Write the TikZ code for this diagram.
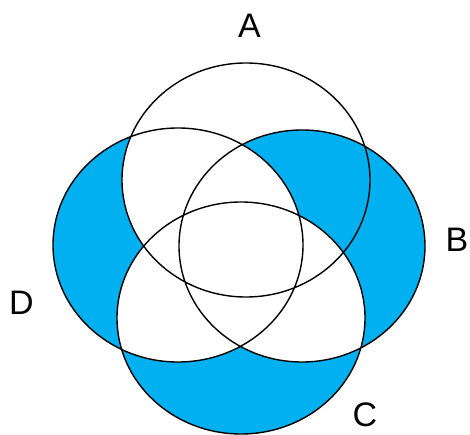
\documentclass[tikz,border=0pt]{standalone}
\usepackage{fontspec}
\setmainfont{Liberation Sans}
\usetikzlibrary{positioning}
\definecolor{vnBlue}{HTML}{00B0F0}
\tikzset{
  vnline/.style={draw=black, line width=1.4pt},
  vnfill/.style={fill=vnBlue},
  vnlabel/.style={font=\fontsize{34}{40}\selectfont, inner sep=0pt}
}
\newcommand{\vnA}{(246,254) ellipse [x radius=124pt, y radius=117pt]}
\newcommand{\vnB}{(302,188) ellipse [x radius=123pt, y radius=116pt]}
\newcommand{\vnC}{(241,116) ellipse [x radius=124pt, y radius=116pt]}
\newcommand{\vnD}{(178,189) ellipse [x radius=125pt, y radius=117pt]}
\begin{document}
\begin{tikzpicture}[x=1pt, y=1pt]
  \useasboundingbox (0,0) rectangle (470,434);
  \fill[white] (0,0) rectangle (470,434);
  % shaded parts: B, C, D alone and A with B only
  \fill[vnfill] \vnB; \fill[vnfill] \vnC; \fill[vnfill] \vnD;
  \fill[white] \vnA;
  \begin{scope} \clip \vnC; \fill[white] \vnB; \fill[white] \vnD; \end{scope}
  \begin{scope} \clip \vnB; \fill[white] \vnD; \end{scope}
  \begin{scope} \clip \vnA; \clip \vnB; \fill[vnfill] \vnA; \fill[white] \vnC; \fill[white] \vnD; \end{scope}
  \draw[vnline] \vnA \vnB \vnC \vnD;
  \node[vnlabel] (labA) at (249.5,408.5) {A};
  \node[vnlabel] (labB) at (457,194) {B};
  \node[vnlabel] (labC) at (365,19) {C};
  \node[vnlabel] (labD) at (21.5,131) {D};
\end{tikzpicture}
\end{document}
